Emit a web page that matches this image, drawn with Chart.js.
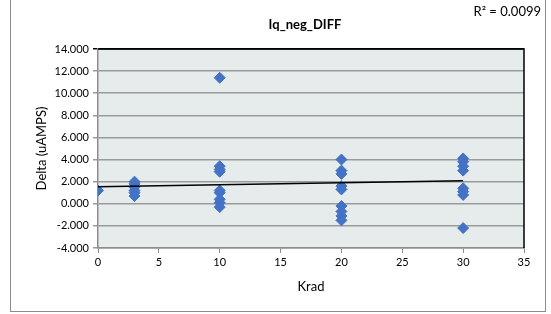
<!DOCTYPE html>
<html>
<head>
<meta charset="utf-8">
<script src="https://cdn.jsdelivr.net/npm/chart.js@4"></script>
<style>
  html, body { margin: 0; padding: 0; background: #fff; }
  #wrap { position: relative; width: 551px; height: 314px; overflow: hidden; }
  #frame { position: absolute; left: 10px; top: -4px; width: 536px; height: 316px; border: 1px solid #8c8c8c; box-sizing: border-box; pointer-events: none; }
  canvas { position: absolute; left: 0; top: 0; }
</style>
</head>
<body>
<div id="wrap">
  <canvas id="c" width="551" height="314"></canvas>
  <div id="frame"></div>
</div>
<script>
const chartTitle = "Iq_neg_DIFF";
const rSquaredLabel = "R² = 0.0099";
const xTitle = "Krad";
const yTitle = "Delta (uAMPS)";

const krad  = [0,   3,   3,   3,   3,   3,   3,   10,   10,  10,  10,  10,  10,  10,  10,  10,   20,  20,  20,  20,  20,  20,   20,   20,   20,   30,  30,  30,  30,  30,  30,  30,  30];
const delta = [1.2, 2.0, 1.8, 1.5, 1.2, 1.0, 0.7, 11.4, 3.4, 3.1, 2.9, 1.2, 1.0, 0.4, 0.1, -0.3, 4.0, 3.0, 2.7, 1.6, 1.3, -0.2, -0.7, -1.1, -1.5, 4.1, 3.8, 3.4, 3.0, 1.4, 1.1, 0.8, -2.2];

const trendX = [0, 30];
const trendY = [1.55, 2.08];

const yTicks = [-4, -2, 0, 2, 4, 6, 8, 10, 12, 14];
const xTicks = [0, 5, 10, 15, 20, 25, 30, 35];

const FONT = "Lato, 'Open Sans', sans-serif";

const bgPlugin = {
  id: 'bg',
  beforeDraw(chart) {
    const {ctx, chartArea: a} = chart;
    ctx.save();
    ctx.fillStyle = '#e6ecec';
    ctx.fillRect(a.left, a.top, a.right - a.left, a.bottom - a.top);
    ctx.restore();
  },
  afterDraw(chart) {
    const {ctx, chartArea: a} = chart;
    ctx.save();
    ctx.strokeStyle = '#000';
    ctx.lineWidth = 1.5;
    ctx.beginPath();
    ctx.moveTo(a.left, a.top);
    ctx.lineTo(a.right, a.top);
    ctx.lineTo(a.right, a.bottom);
    ctx.stroke();
    ctx.fillStyle = '#000';
    ctx.textAlign = 'center';
    ctx.textBaseline = 'middle';
    ctx.font = "bold 13px " + FONT;
    ctx.fillText(chartTitle, 305, 25);
    ctx.textAlign = 'right';
    ctx.font = "13px " + FONT;
    ctx.fillText(rSquaredLabel, 541, 12);
    ctx.restore();
  }
};

new Chart(document.getElementById('c'), {
  type: 'scatter',
  data: {
    datasets: [
      {
        type: 'line',
        data: trendX.map((x, i) => ({x, y: trendY[i]})),
        borderColor: '#000',
        borderWidth: 1.5,
        pointRadius: 0,
        fill: false,
        order: 0
      },
      {
        data: krad.map((x, i) => ({x, y: delta[i]})),
        pointStyle: 'rectRot',
        pointRadius: 5.5,
        backgroundColor: '#4472c4',
        borderColor: '#4472c4',
        borderWidth: 1,
        order: 1
      }
    ]
  },
  plugins: [bgPlugin],
  options: {
    responsive: false,
    animation: false,
    events: [],
    layout: { padding: { left: 0, right: 27, top: 49, bottom: 0 } },
    plugins: { legend: { display: false }, tooltip: { enabled: false }, title: { display: false } },
    scales: {
      x: {
        type: 'linear',
        min: 0, max: 35,
        afterBuildTicks(s) { s.ticks = xTicks.map(v => ({value: v})); },
        afterFit(s) { s.height = 66; },
        grid: { drawOnChartArea: false, drawTicks: true, tickLength: 5, color: '#8c8c8c', lineWidth: 1 },
        border: { color: '#8c8c8c', width: 1.5 },
        ticks: { color: '#000', font: { family: FONT, size: 11 }, padding: 3, maxRotation: 0 },
        title: { display: true, text: xTitle, color: '#000', font: { family: FONT, size: 13 }, padding: { top: 0, bottom: 19 } }
      },
      y: {
        min: -4, max: 14,
        afterBuildTicks(s) { s.ticks = yTicks.map(v => ({value: v})); },
        afterFit(s) { s.width = 98; },
        grid: {
          drawTicks: true, tickLength: 5,
          color: (c) => c.tick && c.tick.value === 14 ? '#000' : '#9a9a9a',
          lineWidth: 1.5
        },
        border: { color: '#8c8c8c', width: 1.5 },
        ticks: { color: '#000', font: { family: FONT, size: 11 }, padding: 4, callback: v => Number(v).toFixed(3) },
        title: { display: true, text: yTitle, color: '#000', font: { family: FONT, size: 13 }, padding: { top: 34, bottom: 0 } }
      }
    }
  }
});
</script>
</body>
</html>
